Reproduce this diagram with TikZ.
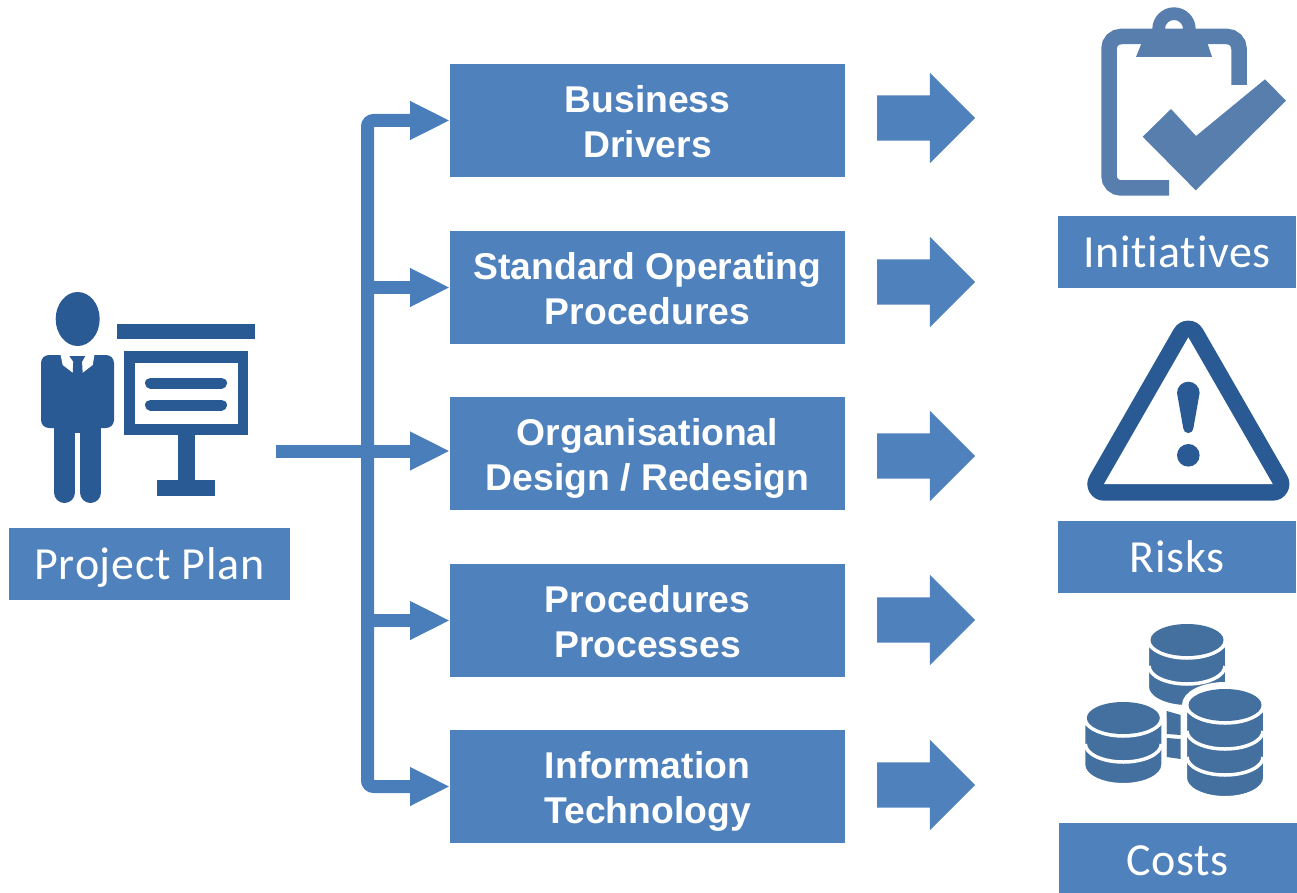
\documentclass[tikz,border=0pt]{standalone}
\usepackage{fontspec}
\setmainfont{Liberation Sans}
\newfontfamily\labelfont[Ligatures=NoCommon, LetterSpace=1.5]{Carlito}
\usetikzlibrary{arrows.meta, shapes.arrows}
\definecolor{boxblue}{HTML}{4F81BD}
\definecolor{linkblue}{HTML}{4A7EBB}
\definecolor{iconblue}{HTML}{2A5A93}
\definecolor{clipblue}{HTML}{577EAC}
\definecolor{coinblue}{HTML}{44709F}
\tikzset{
  stepbox/.style={fill=boxblue, text=white, minimum width=395pt, minimum height=113pt, inner sep=0pt, outer sep=0pt, align=center, text height=74pt, text depth=0pt, font=\fontsize{37.3}{45}\selectfont\bfseries},
  namebox/.style={fill=boxblue, text=white, minimum width=238pt, minimum height=72pt, inner sep=0pt, outer sep=0pt, text height=31pt, text depth=0pt, font=\fontsize{46}{50}\selectfont\labelfont},
  bigarrow/.style={single arrow, fill=boxblue, anchor=tail, minimum height=98pt, minimum width=90pt, single arrow head extend=22.5pt, inner xsep=0pt, inner ysep=22.5pt, outer sep=0pt},
  link/.style={draw=linkblue, line width=13pt, -{Triangle[length=40pt, width=36pt]}}
}
\newcommand{\coinstack}[3]{
  \filldraw[draw=white, fill=coinblue, line width=5pt] (#1-40.5, #2) -- (#1-40.5, #2+#3) arc[start angle=180, end angle=360, x radius=40.5pt, y radius=20.5pt] -- (#1+40.5, #2) arc[start angle=0, end angle=180, x radius=40.5pt, y radius=20.5pt] -- cycle;
  \foreach \ringy in {0, 26, 52} {
    \ifdim \ringy pt < #3 pt
      \draw[white, line width=3.5pt] (#1-38, #2+\ringy) arc[start angle=180, end angle=360, x radius=38pt, y radius=18pt];
    \fi
  }
  \fill[white] (#1, #2) ellipse[x radius=41pt, y radius=19pt];
  \fill[coinblue] (#1, #2) ellipse[x radius=36.5pt, y radius=16pt];
}

\begin{document}
\begin{tikzpicture}[x=1pt, y=-1pt]
  \useasboundingbox (0, 0) rectangle (1297, 893);

  \node[namebox, minimum width=281pt] (plan) at (149.5, 564) {Project Plan};
  \node[stepbox] (drivers) at (647.5, 120.5) {Business\\Drivers};
  \node[stepbox] (standard) at (647.5, 287.5) {Standard Operating\\Procedures};
  \node[stepbox] (design) at (647.5, 453.5) {Organisational\\Design / Redesign};
  \node[stepbox] (processes) at (647.5, 620.5) {Procedures\\Processes};
  \node[stepbox] (technology) at (647.5, 786.5) {Information\\Technology};
  \node[namebox] (initiatives) at (1177, 252) {Initiatives};
  \node[namebox] (risks) at (1177, 557) {Risks};
  \node[namebox, minimum height=70pt, text height=34pt] (costs) at (1177.5, 858) {Costs};

  \node[bigarrow] (outa) at (877, 118) {};
  \node[bigarrow] (outb) at (877, 282) {};
  \node[bigarrow] (outc) at (877, 456) {};
  \node[bigarrow] (outd) at (877, 620) {};
  \node[bigarrow] (oute) at (877, 785) {};

  % connectors
  \coordinate (feed) at (276, 451);
  \coordinate (spine) at (367.5, 451);
  \draw[link, rounded corners=6pt] (spine) |- (drivers.west);
  \draw[link, rounded corners=6pt] (spine) |- (technology.west);
  \draw[link] (spine |- standard) -- (standard.west);
  \draw[link] (spine |- processes) -- (processes.west);
  \draw[link] (feed) -- (design.west |- feed);

  % presenter
  \fill[iconblue] (77.7, 319) ellipse[x radius=22pt, y radius=27pt];
  \fill[iconblue, rounded corners=8pt] (41, 355) rectangle (114, 428);
  \draw[iconblue, line width=21pt, line cap=round] (64.5, 420) -- (64.5, 492.5);
  \draw[iconblue, line width=21pt, line cap=round] (90.5, 420) -- (90.5, 492.5);
  \fill[iconblue] (60, 420) rectangle (95, 433);
  \fill[white] (60, 352) -- (62.7, 365) -- (72.7, 372.7) -- (82.7, 372.7) -- (92.7, 365) -- (95, 352) -- cycle;
  \fill[iconblue] (69.3, 356) -- (85.3, 356) -- (82, 361.7) -- (82.7, 373) -- (72.7, 373) -- (73.3, 361.7) -- cycle;

  % board
  \fill[iconblue] (117, 324) rectangle (255, 339);
  \fill[iconblue] (124, 351) rectangle (248, 435);
  \fill[white] (135, 363) rectangle (238, 424);
  \draw[iconblue, line width=11pt, line cap=round] (150.5, 383) -- (221.5, 383);
  \draw[iconblue, line width=11pt, line cap=round] (150.5, 405) -- (221.5, 405);
  \fill[iconblue] (178, 435) rectangle (195, 480);
  \fill[iconblue] (157, 480) rectangle (215, 496);

  % clipboard
  \draw[clipblue, line width=15.5pt, rounded corners=12pt] (1169, 188) -- (1109, 188) -- (1109, 36.5) -- (1239, 36.5) -- (1239, 85);
  \fill[clipblue] (1136, 57) -- (1142, 42) -- (1207, 42) -- (1212, 57) -- cycle;
  \fill[clipblue, even odd rule] (1174, 29) circle[radius=21.7pt] (1174, 29) circle[radius=9pt];
  \fill[clipblue] (1142.7, 136.7) -- (1171, 109) -- (1196, 136) -- (1265, 79.3) -- (1286, 100.7) -- (1195.7, 190.3) -- cycle;

  % warning sign
  \filldraw[draw=iconblue, fill=iconblue, line width=33.4pt, line join=round] (1188.3, 337.3) -- (1272.7, 484) -- (1104, 484) -- cycle;
  \fill[white] (1188.3, 337.3) -- (1272.7, 484) -- (1104, 484) -- cycle;
  \fill[iconblue] (1177, 393) arc[start angle=180, end angle=0, radius=11.3pt] -- (1193.4, 428) arc[start angle=0, end angle=-180, radius=5.1pt] -- cycle;
  \fill[iconblue] (1188.3, 455.3) circle[radius=11.3pt];

  % coins
  \coinstack{1187}{640}{47}
  \fill[coinblue] (1166.7, 711) -- (1180.7, 715) -- (1180.7, 735) -- (1166.7, 734) -- cycle;
  \fill[coinblue] (1166.7, 738) -- (1180.7, 739) -- (1180.7, 759) -- (1166.7, 757) -- cycle;
  \coinstack{1123.3}{718}{47}
  \coinstack{1225}{705}{73}
\end{tikzpicture}
\end{document}
